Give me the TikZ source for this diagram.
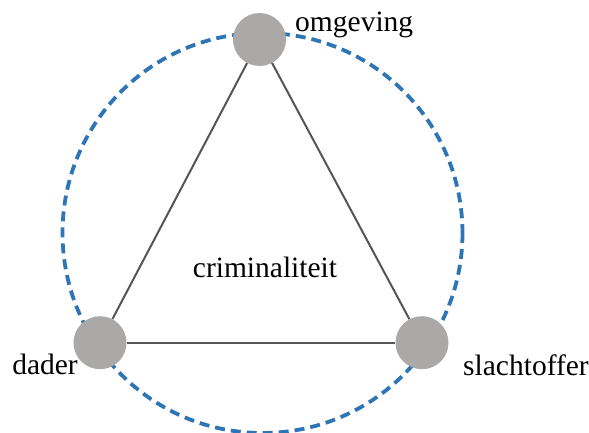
\documentclass[tikz,border=0pt]{standalone}
\usepackage{fontspec}
\setmainfont{Liberation Serif}
\definecolor{ringblue}{HTML}{2E75B6}
\definecolor{nodegray}{HTML}{ABA8A8}
\definecolor{edgegray}{HTML}{555555}
\begin{document}
\begin{tikzpicture}[x=1pt,y=-1pt,
  actor/.style={circle,fill=nodegray,minimum size=53pt,inner sep=0pt},
  edge/.style={draw=edgegray,line width=2pt},
  ring/.style={draw=ringblue,line width=3.8pt,dash pattern=on 10pt off 6pt},
  lbl/.style={inner sep=0pt,font=\fontsize{29.5}{32}\selectfont}]
\useasboundingbox (0,0) rectangle (589,433);
\coordinate (c) at (262.5,233);
\draw[ring] (c) circle[radius=200];
\node[actor] (omg) at (259.5,39.5) {};
\node[actor] (dad) at (100,342.7) {};
\node[actor] (sla) at (422,342.7) {};
\draw[edge] (omg) -- (dad);
\draw[edge] (dad) -- (sla);
\draw[edge] (sla) -- (omg);
\node[lbl,anchor=base west] (tomg) at (295,32) {omgeving};
\node[lbl,anchor=base east] (tdad) at (78,374) {dader};
\node[lbl,anchor=base west] (tsla) at (463,375) {slachtoffer};
\node[lbl,anchor=base] (tcrim) at (265,277) {criminaliteit};
\end{tikzpicture}
\end{document}
